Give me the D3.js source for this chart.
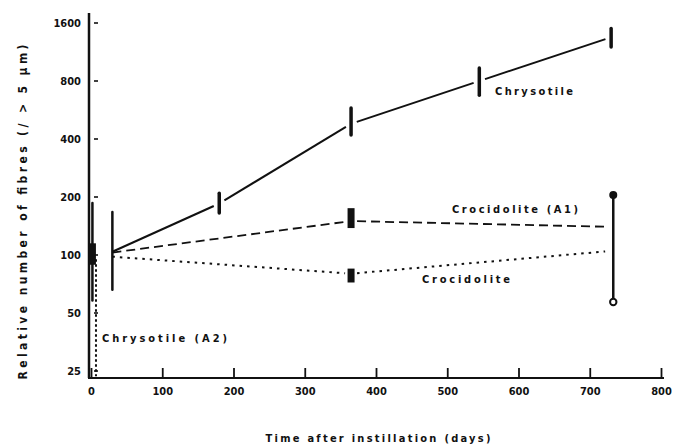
<!DOCTYPE html>
<html>
<head>
<meta charset="utf-8">
<title>Relative number of fibres after instillation</title>
<script src="https://cdn.jsdelivr.net/npm/d3@7"></script>
<style>
  body { margin: 0; background: #fff; }
  text { font-family: "Liberation Sans Narrow", "DejaVu Sans Condensed", "Arial Narrow", sans-serif; font-weight: bold; fill: #111; }
</style>
</head>
<body>
<script>
    var w = 683, h = 446;

    // axis ticks
    var xTicks = [0, 100, 200, 300, 400, 500, 600, 700, 800];
    var yTicks = [25, 50, 100, 200, 400, 800, 1600];

    // series (day, relative number of fibres)
    var chrysDays = [30, 180, 365, 545, 730];
    var chrysVals = [104, 185, 480, 800, 1350];
    var a1Days = [30, 365, 730];
    var a1Vals = [103, 150, 140];
    var crocDays = [30, 365, 730];
    var crocVals = [98, 80, 105];
    var a2Days = [7, 7];
    var a2Vals = [95, 23.5];

    // thin range bars
    var barDays = [2, 30, 180, 365, 545, 730, 733];
    var barLow  = [58, 66, 165, 420, 675, 1200, 57];
    var barHigh = [186, 167, 209, 580, 935, 1500, 205];
    // thick blocks
    var boxDays = [2, 365, 365];
    var boxLow  = [89, 138, 72];
    var boxHigh = [115, 175, 85];

    var x = d3.scaleLinear().domain([0, 800]).range([91, 661]);
    var y = d3.scaleLog().base(2).domain([25, 1600]).range([371, 23]);

    var svg = d3.select("body").append("svg")
                .attr("width", w)
                .attr("height", h);
    svg.append("rect").attr("width", w).attr("height", h).attr("fill", "#fff");

    // axes
    svg.append("line").attr("x1", 89).attr("x2", 89).attr("y1", 13).attr("y2", 378)
       .attr("stroke", "#111").attr("stroke-width", 2.5);
    svg.append("line").attr("x1", 88).attr("x2", 664).attr("y1", 378).attr("y2", 378)
       .attr("stroke", "#111").attr("stroke-width", 2);

    var xa = svg.append("g").attr("transform", "translate(0,378)")
        .call(d3.axisBottom(x).tickValues(xTicks).tickSize(-10).tickSizeOuter(0).tickPadding(9));
    xa.select(".domain").remove();
    xa.selectAll("line").attr("stroke", "#111").attr("stroke-width", 1.8);
    xa.selectAll("text").attr("font-size", 11).style("font-family", null);

    var ya = svg.append("g").attr("transform", "translate(89,0)")
        .call(d3.axisLeft(y).tickValues(yTicks).tickFormat(d3.format("d")).tickSize(0).tickPadding(8));
    ya.select(".domain").remove();
    ya.selectAll("text").attr("font-size", 11).style("font-family", null);

    // little dash ticks right of the y axis
    svg.selectAll("line.ydash")
       .data(yTicks)
       .enter()
       .append("line")
       .attr("class", "ydash")
       .attr("x1", 94).attr("x2", 98)
       .attr("y1", function(d) { return y(d); })
       .attr("y2", function(d) { return y(d); })
       .attr("stroke", "#111").attr("stroke-width", 1.6);

    // draw a series as separate segments with small gaps at the bars
    function drawSeries(days, vals, dash, width) {
        var pts = days.map(function(d, i) { return [x(d), y(vals[i])]; });
        for (var i = 0; i < pts.length - 1; i++) {
            var p = pts[i], q = pts[i + 1];
            var dx = q[0] - p[0], dy = q[1] - p[1];
            var len = Math.sqrt(dx * dx + dy * dy);
            var g0 = i === 0 ? 0 : 6, g1 = 6;
            svg.append("line")
               .attr("x1", p[0] + dx * g0 / len).attr("y1", p[1] + dy * g0 / len)
               .attr("x2", q[0] - dx * g1 / len).attr("y2", q[1] - dy * g1 / len)
               .attr("stroke", "#111")
               .attr("stroke-width", width)
               .attr("stroke-dasharray", dash);
        }
    }

    drawSeries(chrysDays, chrysVals, null, 2);
    drawSeries(a1Days, a1Vals, "9,5", 1.8);
    drawSeries(crocDays, crocVals, "2.5,5", 2);

    // Chrysotile (A2) falls off the bottom
    svg.append("path")
       .datum(a2Days.map(function(d, i) { return [d, a2Vals[i]]; }))
       .attr("d", d3.line().x(function(d) { return x(d[0]); }).y(function(d) { return y(d[1]); }))
       .attr("stroke", "#111").attr("stroke-width", 2).attr("fill", "none")
       .attr("stroke-dasharray", "2.5,2.5");

    // range bars
    svg.selectAll("line.bar")
       .data(barDays)
       .enter()
       .append("line")
       .attr("class", "bar")
       .attr("x1", function(d) { return x(d); })
       .attr("x2", function(d) { return x(d); })
       .attr("y1", function(d, i) { return y(barLow[i]); })
       .attr("y2", function(d, i) { return y(barHigh[i]); })
       .attr("stroke", "#111")
       .attr("stroke-width", function(d, i) { return (i >= 2 && i <= 5) ? 3.5 : 2.5; })
       .attr("stroke-linecap", "round");

    svg.selectAll("rect.box")
       .data(boxDays)
       .enter()
       .append("rect")
       .attr("class", "box")
       .attr("x", function(d) { return x(d) - 3.5; })
       .attr("width", 7)
       .attr("y", function(d, i) { return y(boxHigh[i]); })
       .attr("height", function(d, i) { return y(boxLow[i]) - y(boxHigh[i]); })
       .attr("fill", "#111");

    // end markers of the 730-day bar
    svg.append("circle").attr("cx", x(barDays[6])).attr("cy", y(barHigh[6]))
       .attr("r", 4).attr("fill", "#111");
    svg.append("circle").attr("cx", x(barDays[6])).attr("cy", y(barLow[6]))
       .attr("r", 3.2).attr("fill", "#fff").attr("stroke", "#111").attr("stroke-width", 2);

    // series labels
    var labels = [
        {t: "Chrysotile", x: 495, y: 91, len: 78},
        {t: "Crocidolite (A1)", x: 452, y: 209, len: 126},
        {t: "Crocidolite", x: 422, y: 279, len: 88},
        {t: "Chrysotile (A2)", x: 102, y: 338, len: 125}
    ];
    svg.selectAll("text.lab")
       .data(labels)
       .enter()
       .append("text")
       .attr("class", "lab")
       .attr("x", function(d) { return d.x; })
       .attr("y", function(d) { return d.y; })
       .attr("dy", "0.35em")
       .attr("font-size", 11)
       .attr("textLength", function(d) { return d.len; })
       .attr("lengthAdjust", "spacing")
       .text(function(d) { return d.t; });

    // axis titles
    svg.append("text")
       .attr("x", 378).attr("y", 438).attr("dy", "0.35em")
       .attr("text-anchor", "middle")
       .attr("font-size", 11)
       .attr("textLength", 225).attr("lengthAdjust", "spacing")
       .text("Time after instillation (days)");

    svg.append("text")
       .attr("transform", "translate(23,212) rotate(-90)")
       .attr("dy", "0.35em")
       .attr("text-anchor", "middle")
       .attr("font-size", 12)
       .attr("textLength", 335).attr("lengthAdjust", "spacing")
       .text("Relative number of fibres (/ > 5 µm)");
</script>
</body>
</html>
